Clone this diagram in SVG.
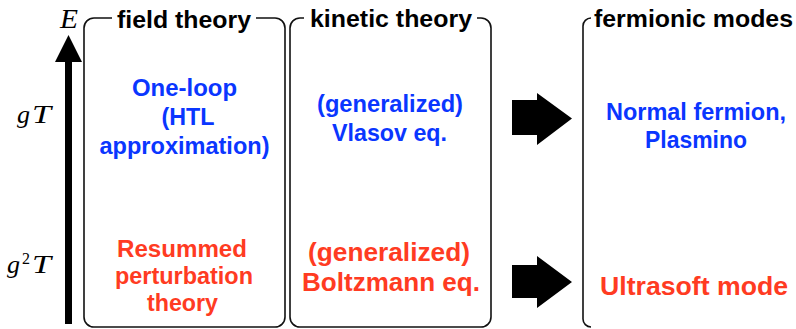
<svg xmlns="http://www.w3.org/2000/svg" width="796" height="329" viewBox="0 0 796 329">
<style>
.box{fill:none;stroke:#111;stroke-width:1.6}
.t{font-family:"Liberation Sans",Arial,sans-serif;font-weight:bold;text-anchor:middle}
.title{font-size:23px;fill:#000}
.blue{fill:#0a36ff}
.red{fill:#ff3b22}
.m{font-family:"Liberation Serif","Times New Roman",serif;font-style:italic;font-weight:normal;fill:#000}
.n{font-family:"Liberation Serif","Times New Roman",serif;font-style:normal;font-weight:normal;fill:#000}
.blk{fill:#000}
</style>
<rect width="796" height="329" fill="#fff"/>
<g id="axis">
  <rect class="blk" x="65" y="60" width="7" height="264"/>
  <polygon class="blk" points="55,62 68.5,35 82,62"/>
  <text class="m" x="60" y="28" font-size="27" textLength="18" lengthAdjust="spacingAndGlyphs">E</text>
  <text class="m" x="17" y="123" font-size="26">g</text>
  <text class="m" x="32" y="123" font-size="26" textLength="19" lengthAdjust="spacingAndGlyphs">T</text>
  <text class="m" x="7" y="273" font-size="26">g</text>
  <text class="n" x="22" y="264" font-size="16">2</text>
  <text class="m" x="32" y="273" font-size="26" textLength="19" lengthAdjust="spacingAndGlyphs">T</text>
</g>
<g id="field-theory">
  <path class="box" d="M112,18 H94 A10,10 0 0 0 84,28 V317 A10,10 0 0 0 94,327 H275 A10,10 0 0 0 285,317 V28 A10,10 0 0 0 275,18 H256"/>
  <text class="t title" x="184" y="28" textLength="134" lengthAdjust="spacingAndGlyphs">field theory</text>
  <text class="t blue" x="184.5" y="96" font-size="23" textLength="105" lengthAdjust="spacingAndGlyphs">One-loop</text>
  <text class="t blue" x="188" y="125" font-size="23" textLength="53" lengthAdjust="spacingAndGlyphs">(HTL</text>
  <text class="t blue" x="184.5" y="154" font-size="23" textLength="170" lengthAdjust="spacingAndGlyphs">approximation)</text>
  <text class="t red" x="182" y="257" font-size="23" textLength="130" lengthAdjust="spacingAndGlyphs">Resummed</text>
  <text class="t red" x="184" y="284" font-size="23" textLength="138" lengthAdjust="spacingAndGlyphs">perturbation</text>
  <text class="t red" x="182.5" y="311" font-size="23" textLength="71" lengthAdjust="spacingAndGlyphs">theory</text>
</g>
<g id="kinetic-theory">
  <path class="box" d="M304,18 H300 A10,10 0 0 0 290,28 V317 A10,10 0 0 0 300,327 H481 A10,10 0 0 0 491,317 V28 A10,10 0 0 0 481,18 H477"/>
  <text class="t title" x="391" y="27" textLength="162" lengthAdjust="spacingAndGlyphs">kinetic theory</text>
  <text class="t blue" x="390" y="112" font-size="24" textLength="146" lengthAdjust="spacingAndGlyphs">(generalized)</text>
  <text class="t blue" x="389.5" y="141" font-size="24" textLength="115" lengthAdjust="spacingAndGlyphs">Vlasov eq.</text>
  <text class="t red" x="389" y="261" font-size="26" textLength="162" lengthAdjust="spacingAndGlyphs">(generalized)</text>
  <text class="t red" x="391" y="291" font-size="26" textLength="178" lengthAdjust="spacingAndGlyphs">Boltzmann eq.</text>
</g>
<g id="fermionic-modes">
  <path class="box" d="M591,18 A8,8 0 0 0 583,26 V319 A8,8 0 0 0 591,327"/>
  <text class="t title" x="693.5" y="27" textLength="199" lengthAdjust="spacingAndGlyphs">fermionic modes</text>
  <text class="t blue" x="696" y="120" font-size="24" textLength="180" lengthAdjust="spacingAndGlyphs">Normal fermion,</text>
  <text class="t blue" x="696" y="148" font-size="24" textLength="102" lengthAdjust="spacingAndGlyphs">Plasmino</text>
  <text class="t red" x="694" y="295" font-size="26" textLength="188" lengthAdjust="spacingAndGlyphs">Ultrasoft mode</text>
</g>
<g id="connectors">
  <polygon class="blk" points="512,100 537,100 537,93 572,118.5 537,145 537,135 512,135"/>
  <polygon class="blk" points="512,265 537,265 537,256 572,282 537,308 537,298 512,298"/>
</g>
</svg>
